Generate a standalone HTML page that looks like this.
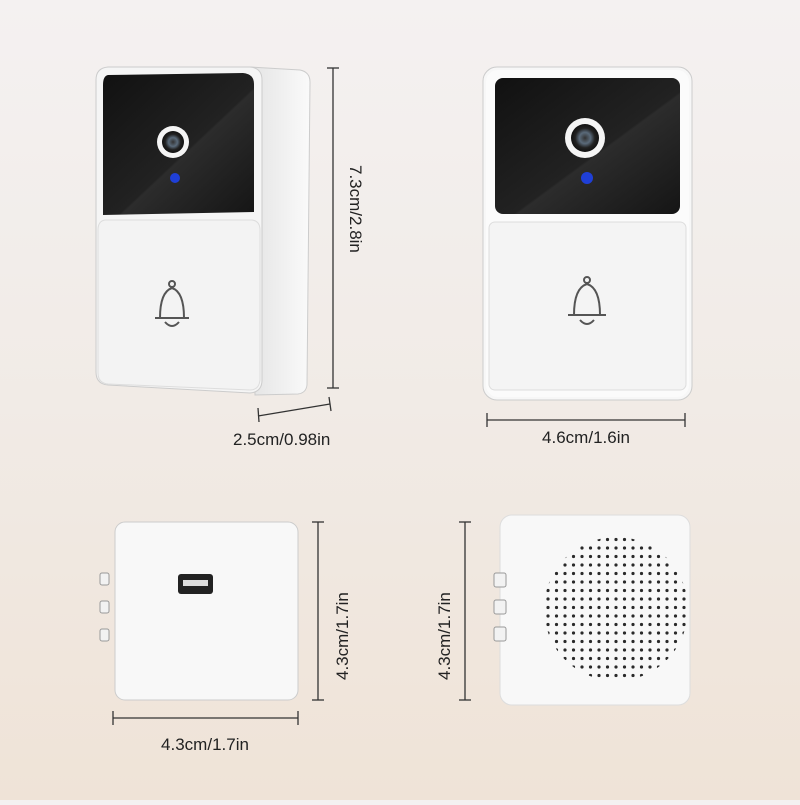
<!DOCTYPE html>
<html><head><meta charset="utf-8"><style>
html,body{margin:0;padding:0}
body{width:800px;height:800px;overflow:hidden;background:linear-gradient(180deg,#f4f1f1 0%,#f1ebe6 50%,#efe3d7 100%);font-family:"Liberation Sans",sans-serif}
</style></head><body>
<svg width="800" height="800" viewBox="0 0 800 800" xmlns="http://www.w3.org/2000/svg" font-family="Liberation Sans, sans-serif">
<defs>
<linearGradient id="scr" x1="0" y1="0" x2="1" y2="1"><stop offset="0" stop-color="#111"/><stop offset="0.55" stop-color="#222"/><stop offset="0.56" stop-color="#2c2c2c"/><stop offset="1" stop-color="#151515"/></linearGradient>
<linearGradient id="side" x1="0" y1="0" x2="1" y2="0"><stop offset="0" stop-color="#e4e4e4"/><stop offset="1" stop-color="#fafafa"/></linearGradient>
<pattern id="dots" width="8.5" height="8.5" patternUnits="userSpaceOnUse"><circle cx="4" cy="4" r="1.6" fill="#2a2a2a"/></pattern>
<radialGradient id="cam"><stop offset="0" stop-color="#333"/><stop offset="0.4" stop-color="#5a6a7a"/><stop offset="0.7" stop-color="#222"/><stop offset="1" stop-color="#111"/></radialGradient>
</defs>

<path d="M250 67 L300 70 Q310 72 310 82 L307 385 Q306 393 298 394 L255 395 Z" fill="url(#side)" stroke="#ccc"/>
<path d="M108 67 L250 67 Q262 68 262 80 L262 380 Q262 392 250 393 L108 385 Q96 384 96 372 L96 80 Q96 68 108 67 Z" fill="#f5f5f5" stroke="#ccc"/>
<path d="M108 75 L243 73 Q254 74 254 84 L254 212 L103 215 L103 85 Q103 76 108 75 Z" fill="url(#scr)"/>
<path d="M105 220 L252 220 Q260 221 260 230 L260 380 Q259 390 250 390 L108 384 Q98 383 98 373 L98 230 Q98 221 105 220 Z" fill="#f3f3f3" stroke="#ddd"/>
<circle cx="173" cy="142" r="16" fill="#f5f5f5"/><circle cx="173" cy="142" r="11" fill="url(#cam)"/>
<circle cx="175" cy="178" r="5" fill="#1f3fd6"/>
<g fill="none" stroke="#555" stroke-width="2"><path d="M160 318 Q160 292 172 288 Q184 292 184 318 Z"/><circle cx="172" cy="284" r="3"/><path d="M155 318 L189 318"/><path d="M165 322 Q172 330 179 322"/></g>
<g stroke="#333" stroke-width="1.3"><line x1="333" y1="68" x2="333" y2="388"/><line x1="327" y1="68" x2="339" y2="68"/><line x1="327" y1="388" x2="339" y2="388"/>
<line x1="258" y1="416" x2="330" y2="404"/><line x1="258" y1="408" x2="259" y2="422"/><line x1="329" y1="397" x2="331" y2="411"/></g>
<text x="0" y="0" font-size="17" fill="#222" transform="translate(350 165) rotate(90)">7.3cm/2.8in</text>
<text x="233" y="445" font-size="17" fill="#222">2.5cm/0.98in</text>

<rect x="483" y="67" width="209" height="333" rx="14" fill="#f7f7f7" stroke="#ccc"/>
<rect x="486" y="70" width="203" height="327" rx="12" fill="#fbfbfb"/>
<rect x="495" y="78" width="185" height="136" rx="8" fill="url(#scr)"/>
<rect x="489" y="222" width="197" height="168" rx="6" fill="#f4f4f4" stroke="#ddd"/>
<circle cx="585" cy="138" r="20" fill="#f5f5f5"/><circle cx="585" cy="138" r="14" fill="url(#cam)"/>
<circle cx="587" cy="178" r="6" fill="#1f3fd6"/>
<g fill="none" stroke="#555" stroke-width="2"><path d="M574 315 Q574 288 587 284 Q600 288 600 315 Z"/><circle cx="587" cy="280" r="3"/><path d="M568 315 L606 315"/><path d="M580 320 Q587 328 594 320"/></g>
<g stroke="#333" stroke-width="1.3"><line x1="487" y1="420" x2="685" y2="420"/><line x1="487" y1="413" x2="487" y2="427"/><line x1="685" y1="413" x2="685" y2="427"/></g>
<text x="586" y="443" font-size="17" fill="#222" text-anchor="middle">4.6cm/1.6in</text>

<g fill="#f2f2f2" stroke="#999"><rect x="100" y="573" width="9" height="12" rx="2"/><rect x="100" y="601" width="9" height="12" rx="2"/><rect x="100" y="629" width="9" height="12" rx="2"/></g>
<rect x="115" y="522" width="183" height="178" rx="10" fill="#f8f8f8" stroke="#ccc"/>
<rect x="178" y="574" width="35" height="20" rx="3" fill="#222"/><rect x="183" y="580" width="25" height="6" fill="#ddd"/>
<g stroke="#333" stroke-width="1.3"><line x1="318" y1="522" x2="318" y2="700"/><line x1="312" y1="522" x2="324" y2="522"/><line x1="312" y1="700" x2="324" y2="700"/>
<line x1="113" y1="718" x2="298" y2="718"/><line x1="113" y1="711" x2="113" y2="725"/><line x1="298" y1="711" x2="298" y2="725"/></g>
<text font-size="17" fill="#222" transform="translate(348 680) rotate(-90)">4.3cm/1.7in</text>
<text x="205" y="750" font-size="17" fill="#222" text-anchor="middle">4.3cm/1.7in</text>

<rect x="500" y="515" width="190" height="190" rx="12" fill="#f8f8f8" stroke="#ddd"/>
<g fill="#f2f2f2" stroke="#999"><rect x="494" y="573" width="12" height="14" rx="2"/><rect x="494" y="600" width="12" height="14" rx="2"/><rect x="494" y="627" width="12" height="14" rx="2"/></g>
<circle cx="616" cy="609" r="72" fill="url(#dots)"/>
<g stroke="#333" stroke-width="1.3"><line x1="465" y1="522" x2="465" y2="700"/><line x1="459" y1="522" x2="471" y2="522"/><line x1="459" y1="700" x2="471" y2="700"/></g>
<text font-size="17" fill="#222" transform="translate(450 680) rotate(-90)">4.3cm/1.7in</text>
</svg>
</body></html>
